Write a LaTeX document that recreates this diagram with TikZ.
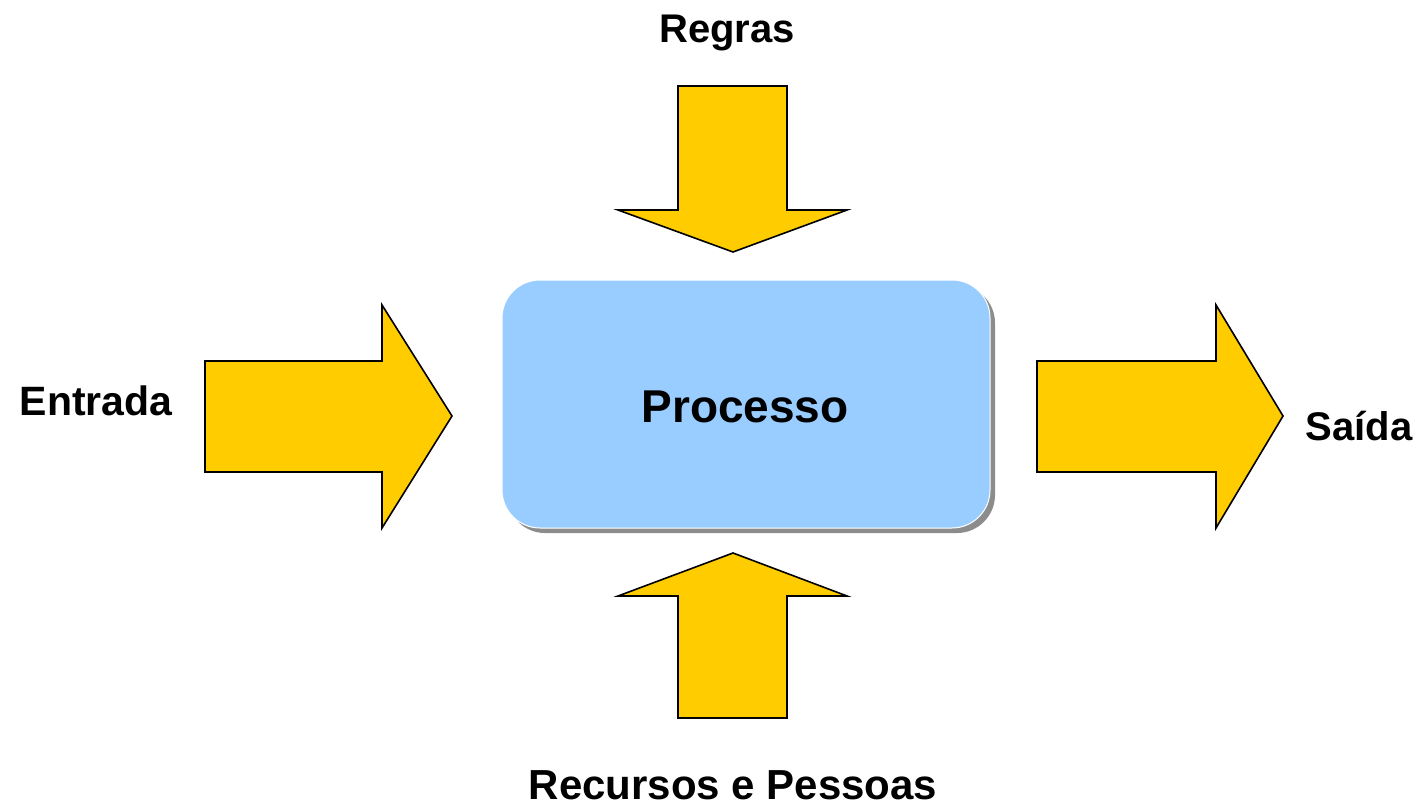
\documentclass[tikz,border=0pt]{standalone}
\usepackage{fontspec}
\setmainfont{Liberation Sans}
\usetikzlibrary{calc}
\definecolor{arrowyellow}{HTML}{FFCC00}
\definecolor{boxblue}{HTML}{99CCFF}
\definecolor{shadowgray}{HTML}{8C8C8C}
\tikzset{
  fatarrow/.style={fill=arrowyellow, draw=black, line width=1.6pt, line join=miter},
  label/.style={font=\fontsize{41}{49}\selectfont\bfseries, inner sep=0pt, anchor=base},
  procbox/.style={fill=boxblue, draw=white, line width=1pt, rounded corners=38pt}
}
\begin{document}
\begin{tikzpicture}[x=1pt,y=-1pt]
\useasboundingbox (0,0) rectangle (1420,805);
% shadow + process box
\fill[shadowgray, rounded corners=38pt] (507,285) rectangle (995,533);
\draw[procbox] (502,280) rectangle (990,528);
\node[font=\fontsize{46}{55}\selectfont\bfseries, inner sep=0pt, anchor=base] (proc) at (745,422) {Processo};
% top arrow (Regras)
\draw[fatarrow] (678,86) -- (787,86) -- (787,210) -- (847,210) -- (733,252) -- (618,210) -- (678,210) -- cycle;
% bottom arrow (Recursos e Pessoas)
\draw[fatarrow] (678,718) -- (787,718) -- (787,596) -- (847,596) -- (733,553) -- (618,596) -- (678,596) -- cycle;
% left arrow (Entrada)
\draw[fatarrow] (205,361) -- (382,361) -- (382,305) -- (452,416) -- (382,528) -- (382,472) -- (205,472) -- cycle;
% right arrow (Saida)
\draw[fatarrow] (1037,361) -- (1216,361) -- (1216,305) -- (1283,416) -- (1216,528) -- (1216,472) -- (1037,472) -- cycle;
% labels
\node[label] (entrada) at (96,415) {Entrada};
\node[label, font=\fontsize{40}{48}\selectfont\bfseries] (regras) at (727,43) {Regras};
\node[label, font=\fontsize{42}{50}\selectfont\bfseries] (recursos) at (733,799) {Recursos e Pessoas};
\node[label, font=\fontsize{40}{48}\selectfont\bfseries] (saida) at (1359,440) {Saída};
\end{tikzpicture}
\end{document}
